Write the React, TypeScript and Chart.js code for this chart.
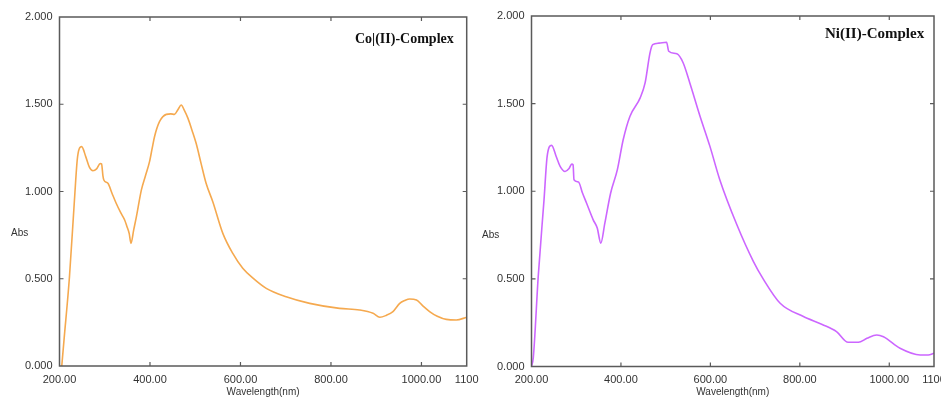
import React, { useEffect, useRef } from 'react';
import { Chart, registerables } from 'chart.js';

Chart.register(...registerables);

// Co(II)-Complex spectrum (wavelength nm, absorbance)
const coWavelength = [205, 210, 222, 233, 240, 249, 258, 266, 274, 282, 290, 293, 296, 298, 307, 316, 325, 335, 344, 349, 354, 358, 364, 370, 381, 390, 399, 405, 410, 421, 436, 446, 454, 462, 469, 476, 484, 493, 502, 513, 524, 539, 561, 583, 605, 627, 657, 701, 753, 819, 863, 893, 908, 922, 937, 952, 963, 974, 989, 1003, 1018, 1035, 1055, 1077, 1100];
const coAbs = [0, 0.15, 0.51, 0.95, 1.2, 1.257, 1.2, 1.14, 1.119, 1.13, 1.16, 1.158, 1.09, 1.066, 1.047, 0.99, 0.934, 0.88, 0.837, 0.8, 0.76, 0.703, 0.78, 0.856, 1.009, 1.09, 1.171, 1.25, 1.314, 1.4, 1.442, 1.445, 1.442, 1.47, 1.496, 1.465, 1.419, 1.35, 1.276, 1.16, 1.047, 0.94, 0.76, 0.645, 0.56, 0.505, 0.445, 0.397, 0.359, 0.33, 0.321, 0.302, 0.279, 0.29, 0.312, 0.359, 0.375, 0.384, 0.378, 0.345, 0.312, 0.285, 0.267, 0.264, 0.279];

// Ni(II)-Complex spectrum
const niWavelength = [200, 204, 215, 228, 235, 245, 255, 264, 275, 284, 290, 293, 295, 305, 314, 323, 338, 347, 355, 364, 377, 392, 405, 420, 443, 454, 465, 471, 485, 502, 507, 525, 539, 554, 577, 599, 621, 659, 696, 718, 756, 808, 850, 882, 908, 931, 950, 972, 987, 1024, 1069, 1087, 1100];
const niAbs = [0, 0.05, 0.513, 0.951, 1.199, 1.262, 1.2, 1.142, 1.113, 1.13, 1.155, 1.15, 1.066, 1.053, 0.99, 0.933, 0.837, 0.79, 0.704, 0.818, 0.99, 1.123, 1.294, 1.427, 1.533, 1.618, 1.79, 1.837, 1.845, 1.85, 1.799, 1.784, 1.733, 1.618, 1.427, 1.256, 1.066, 0.81, 0.6, 0.5, 0.361, 0.285, 0.24, 0.199, 0.138, 0.138, 0.161, 0.18, 0.17, 0.104, 0.066, 0.066, 0.076];

const xTickValues = [200, 400, 600, 800, 1000, 1100];
const xInnerTicks = [400, 600, 800, 1000];
const yTickValues = [0, 0.5, 1, 1.5, 2];
const yInnerTicks = [0.5, 1, 1.5];

const xTitle = 'Wavelength(nm)';
const yTitle = 'Abs';

type Props = {
  wl: number[];
  abs: number[];
  color: string;
  label: string;
  labelFont: string;
  labelX: number;
  labelY: number;
  absX: number;
  absY: number;
  padding: { left: number; top: number; right: number; bottom: number };
  yWidth: number;
  xHeight: number;
  left: number;
};

function SpectrumChart(p: Props) {
  const ref = useRef<HTMLCanvasElement | null>(null);
  useEffect(() => {
    if (!ref.current) return;
    const framePlugin = {
      id: 'frame',
      afterDraw(chart: any) {
        const ctx = chart.ctx;
        const { left, top, right, bottom } = chart.chartArea;
        ctx.save();
        ctx.strokeStyle = '#5a5a5a';
        ctx.lineWidth = 1.5;
        ctx.strokeRect(left, top, right - left, bottom - top);
        ctx.lineWidth = 1.2;
        ctx.beginPath();
        for (const v of xInnerTicks) {
          const x = chart.scales.x.getPixelForValue(v);
          ctx.moveTo(x, top);
          ctx.lineTo(x, top + 4);
          ctx.moveTo(x, bottom);
          ctx.lineTo(x, bottom - 4);
        }
        for (const v of yInnerTicks) {
          const y = chart.scales.y.getPixelForValue(v);
          ctx.moveTo(left, y);
          ctx.lineTo(left + 4, y);
          ctx.moveTo(right, y);
          ctx.lineTo(right - 4, y);
        }
        ctx.stroke();
        ctx.fillStyle = '#333';
        ctx.font = '10px "Liberation Sans", Arial, sans-serif';
        ctx.textAlign = 'left';
        ctx.textBaseline = 'middle';
        ctx.fillText(yTitle, p.absX, p.absY);
        ctx.fillStyle = '#111';
        ctx.font = p.labelFont;
        ctx.textBaseline = 'alphabetic';
        ctx.fillText(p.label, p.labelX, p.labelY);
        ctx.restore();
      },
    };
    const chart = new Chart(ref.current, {
      type: 'line',
      data: {
        datasets: [
          {
            data: p.wl.map((x, i) => ({ x, y: p.abs[i] })),
            borderColor: p.color,
            borderWidth: 1.6,
            pointRadius: 0,
            cubicInterpolationMode: 'monotone',
            fill: false,
          },
        ],
      },
      options: {
        animation: false,
        responsive: true,
        maintainAspectRatio: false,
        layout: { padding: p.padding },
        plugins: { legend: { display: false }, tooltip: { enabled: false } },
        scales: {
          x: {
            type: 'linear',
            min: 200,
            max: 1100,
            grid: { display: false, drawTicks: false },
            border: { display: false },
            afterBuildTicks: (scale: any) => {
              scale.ticks = xTickValues.map((v) => ({ value: v }));
            },
            afterFit: (scale: any) => {
              scale.height = p.xHeight;
              scale.paddingLeft = 0;
              scale.paddingRight = 0;
            },
            ticks: {
              autoSkip: false,
              maxRotation: 0,
              padding: 7,
              color: '#333',
              font: { family: '"Liberation Sans", Arial, sans-serif', size: 11 },
              callback: (v: any) => (Number(v) === 1100 ? '1100' : Number(v).toFixed(2)),
            },
            title: {
              display: true,
              text: xTitle,
              color: '#333',
              font: { family: '"Liberation Sans", Arial, sans-serif', size: 10 },
              padding: { top: 0, bottom: 11 },
            },
          },
          y: {
            type: 'linear',
            min: 0,
            max: 2,
            grid: { display: false, drawTicks: false },
            border: { display: false },
            afterBuildTicks: (scale: any) => {
              scale.ticks = yTickValues.map((v) => ({ value: v }));
            },
            afterFit: (scale: any) => {
              scale.width = p.yWidth;
              scale.paddingTop = 0;
              scale.paddingBottom = 0;
            },
            ticks: {
              padding: 7,
              color: '#333',
              font: { family: '"Liberation Sans", Arial, sans-serif', size: 11 },
              callback: (v: any) => Number(v).toFixed(3),
            },
          },
        },
      },
      plugins: [framePlugin],
    } as any);
    return () => chart.destroy();
  }, []);
  return (
    <div style={{ position: 'absolute', left: p.left, top: 0, width: 480, height: 409 }}>
      <canvas ref={ref} />
    </div>
  );
}

export default function App() {
  return (
    <div
      style={{
        position: 'fixed',
        left: 0,
        top: 0,
        width: 941,
        height: 409,
        overflow: 'hidden',
        background: '#fff',
      }}
    >
      <SpectrumChart
        wl={coWavelength}
        abs={coAbs}
        color="#F5A94F"
        label="Co|(II)-Complex"
        labelFont='bold 14px "Liberation Serif", "Times New Roman", serif'
        labelX={355}
        labelY={43}
        absX={11}
        absY={233}
        padding={{ left: 12, top: 17, right: 13.3, bottom: 0 }}
        yWidth={47.5}
        xHeight={43}
        left={0}
      />
      <SpectrumChart
        wl={niWavelength}
        abs={niAbs}
        color="#CC66FF"
        label="Ni(II)-Complex"
        labelFont='bold 15px "Liberation Serif", "Times New Roman", serif'
        labelX={355}
        labelY={38}
        absX={12}
        absY={235}
        padding={{ left: 14, top: 16, right: 16, bottom: 0 }}
        yWidth={47.5}
        xHeight={42.5}
        left={470}
      />
    </div>
  );
}
